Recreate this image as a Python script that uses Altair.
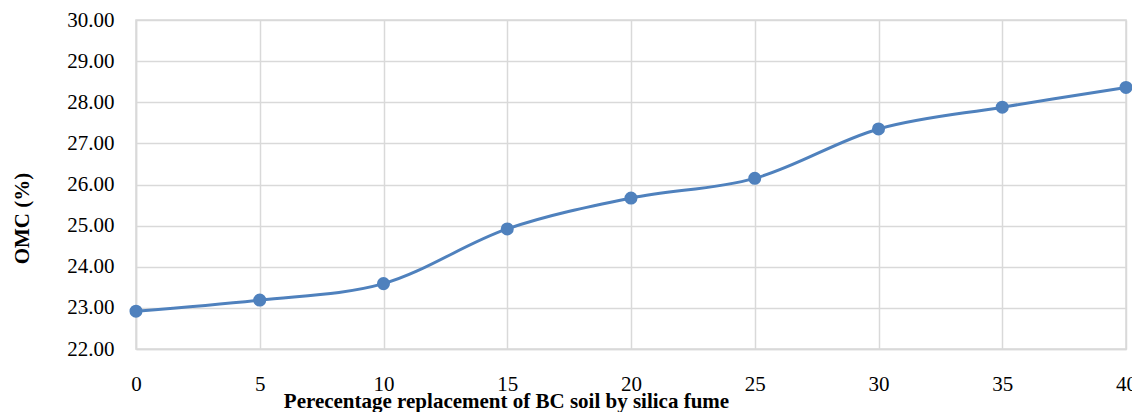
import altair as alt
import pandas as pd

replacement = [0, 5, 10, 15, 20, 25, 30, 35, 40]
omc = [22.92, 23.19, 23.59, 24.92, 25.67, 26.15, 27.35, 27.88, 28.36]
y_ticks = [22, 23, 24, 25, 26, 27, 28, 29, 30]

df = pd.DataFrame({"x": replacement, "y": omc})

FONT = "Times New Roman, Liberation Serif, serif"
COLOR = "#4f81bd"
GRID = "#d9d9d9"

x = alt.X("x:Q",
          scale=alt.Scale(domain=[0, 40], nice=False, zero=False),
          axis=alt.Axis(values=replacement, title="Perecentage replacement of BC soil by silica fume",
                        labelFont=FONT, labelFontSize=21, labelColor="#000000", labelPadding=24,
                        labelFlush=False, labelOverlap=False,
                        ticks=False, domainColor=GRID, domainWidth=1.5,
                        gridColor=GRID, gridWidth=1.5,
                        titleFont=FONT, titleFontSize=21, titleFontWeight="bold", titleColor="#000000",
                        titleX=370, titleY=58, titleAlign="center", titleBaseline="alphabetic"))
y = alt.Y("y:Q",
          scale=alt.Scale(domain=[22, 30], nice=False, zero=False),
          axis=alt.Axis(values=y_ticks, format=".2f", title="OMC (%)",
                        labelFont=FONT, labelFontSize=21, labelColor="#000000", labelPadding=22,
                        labelFlush=False, labelOverlap=False,
                        ticks=False, domainColor=GRID, domainWidth=1.5,
                        gridColor=GRID, gridWidth=1.5,
                        titleFont=FONT, titleFontSize=21, titleFontWeight="bold", titleColor="#000000",
                        titleX=-108, titleY=198, titleAngle=-90, titleAlign="center", titleBaseline="alphabetic"))

line = alt.Chart(df).mark_line(color=COLOR, strokeWidth=3, interpolate="catmull-rom").encode(x=x, y=y)
pts = alt.Chart(df).mark_point(color=COLOR, filled=True, opacity=1, size=170).encode(x=x, y=y)

chart = (line + pts).properties(
    width=990, height=329,
    autosize=alt.AutoSizeParams(type="none"),
    padding={"left": 128, "top": 12, "right": 6, "bottom": 63},
).configure_view(stroke=GRID, strokeWidth=1.5)

chart.save("out.html", embed_options={"renderer": "svg", "actions": False})
